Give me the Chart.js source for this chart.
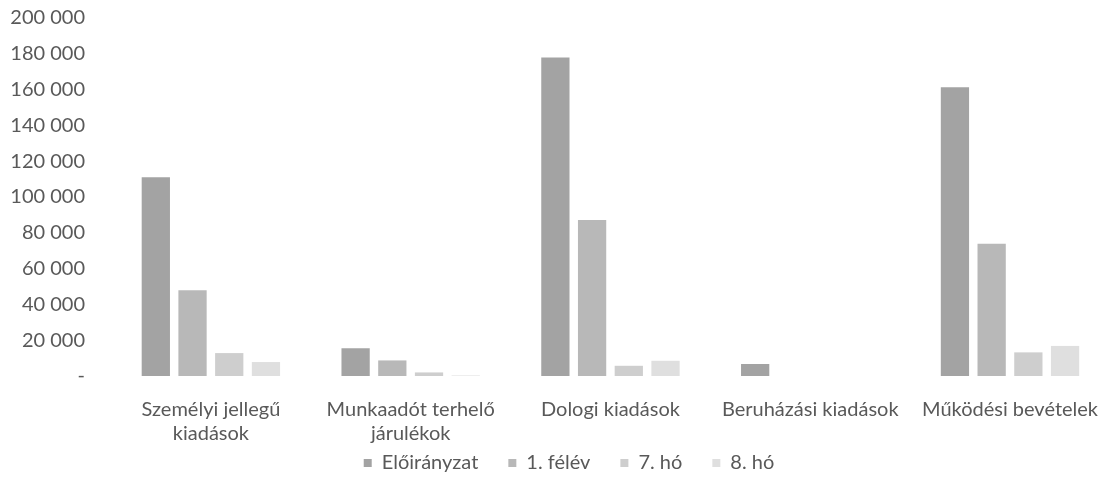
<!DOCTYPE html>
<html>
<head>
<meta charset="utf-8">
<script src="https://cdn.jsdelivr.net/npm/chart.js@4"></script>
<style>
  html, body { margin: 0; padding: 0; background: #fff; }
  #wrap { width: 1120px; height: 497px; }
</style>
</head>
<body>
<div id="wrap"><canvas id="chart"></canvas></div>
<script>
const categories = [
  ["Személyi jellegű", "kiadások"],
  ["Munkaadót terhelő", "járulékok"],
  "Dologi kiadások",
  "Beruházási kiadások",
  "Működési bevételek"
];
const seriesNames = ["Előirányzat", "1. félév", "7. hó", "8. hó"];
const eloiranyzat = [111000, 15500, 178000, 6700, 161300];
const felev1 = [47900, 8700, 87200, 0, 73900];
const ho7 = [12800, 2000, 5700, 0, 13200];
const ho8 = [7800, 300, 8500, 0, 16800];
const colors = ["#a3a3a3", "#b8b8b8", "#cecece", "#dfdfdf"];

// 20 000 style, zero shown as a dash
const fmt = (v) => v === 0 ? "-" : v.toString().replace(/\B(?=(\d{3})+(?!\d))/g, " ");

Chart.defaults.font.family = "Lato, 'Open Sans', sans-serif";
Chart.defaults.font.size = 20;
Chart.defaults.color = "#595959";

// legend: wide gaps between items, but sits closer to the axis labels
const legendPlace = {
  id: "legendPlace",
  beforeInit(chart) {
    const fit = chart.legend.fit;
    chart.legend.fit = function () {
      fit.call(this);
      this.height = 51;
    };
  },
  afterLayout(chart) {
    const lg = chart.legend;
    lg.top -= 23;
    lg.bottom -= 23;
    lg.left += 9;
    lg.right += 9;
  }
};

new Chart(document.getElementById("chart"), {
  type: "bar",
  data: {
    labels: categories,
    datasets: [eloiranyzat, felev1, ho7, ho8].map((d, i) => ({
      label: seriesNames[i],
      data: d,
      backgroundColor: colors[i],
      categoryPercentage: 0.735,
      barPercentage: 0.77
    }))
  },
  options: {
    responsive: true,
    maintainAspectRatio: false,
    animation: false,
    layout: { padding: 0 },
    plugins: {
      tooltip: { enabled: false },
      legend: {
        position: "bottom",
        labels: { boxWidth: 8, boxHeight: 8, padding: 30 }
      }
    },
    scales: {
      x: {
        grid: { display: false, drawTicks: false },
        border: { display: false },
        ticks: { maxRotation: 0, autoSkip: false, padding: 22 },
        afterFit: (s) => { s.height = 70; }
      },
      y: {
        min: 0,
        max: 200000,
        grid: { display: false, drawTicks: false },
        border: { display: false },
        ticks: { stepSize: 20000, callback: fmt, padding: 26 },
        afterFit: (s) => {
          s.width = 111;
          s.paddingTop = 18;
          s.paddingBottom = 12;
        }
      }
    }
  },
  plugins: [legendPlace]
});
</script>
</body>
</html>
